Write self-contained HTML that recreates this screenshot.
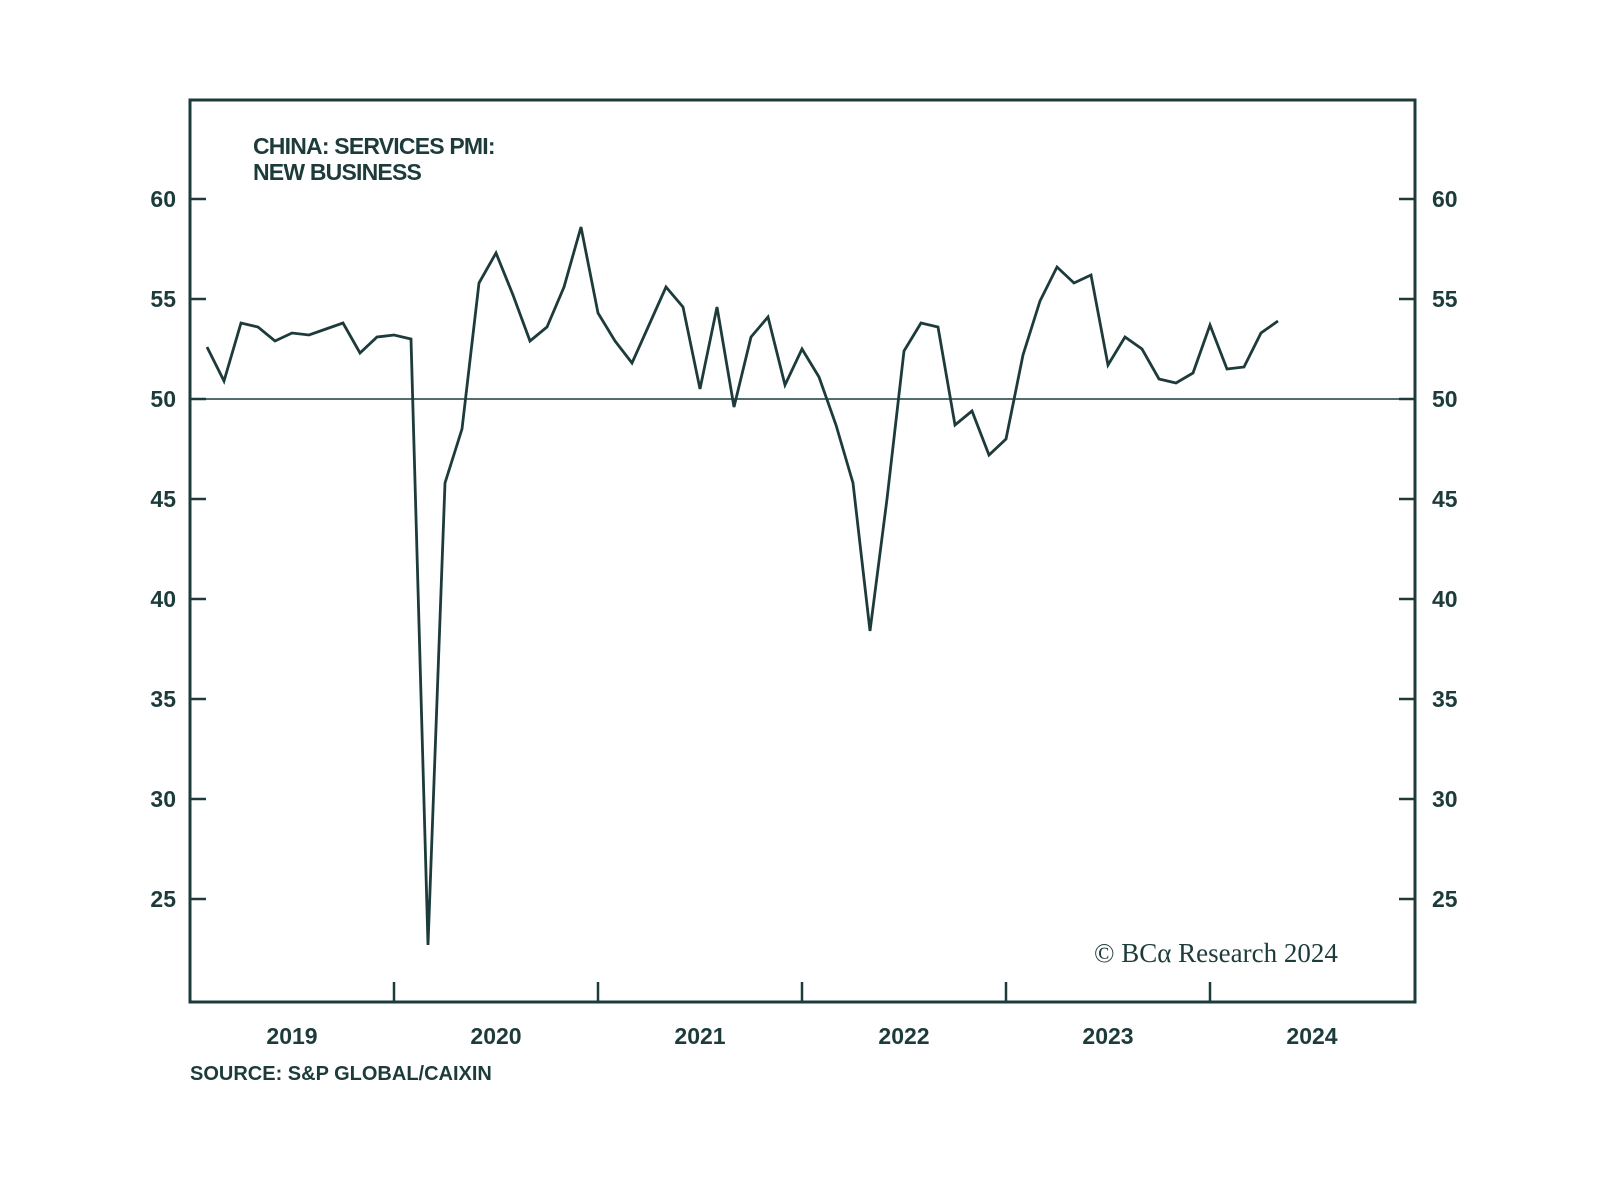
<!DOCTYPE html>
<html><head><meta charset="utf-8"><style>
body{margin:0;background:#fff;}
svg{display:block;}
text{font-family:"Liberation Sans",sans-serif;fill:#1d3b3b;}
</style></head><body>
<svg id="chart" width="1600" height="1200" xmlns="http://www.w3.org/2000/svg">
<g id="frame"></g>
<g id="ticks"></g>
<g id="series"></g>
<text x="253" y="154" font-size="23" font-weight="bold" letter-spacing="-0.8">CHINA: SERVICES PMI:</text>
<text x="253" y="180" font-size="23" font-weight="bold" letter-spacing="-0.8">NEW BUSINESS</text>
<text x="1094" y="962" font-size="27" style="font-family:'Liberation Serif',serif">© BCα Research 2024</text>
<text x="190" y="1080" font-size="20" font-weight="bold">SOURCE: S&amp;P GLOBAL/CAIXIN</text>
</svg>
<script>
const years = ["2019","2020","2021","2022","2023","2024"];
const yTicks = [25,30,35,40,45,50,55,60];
const values = [
52.6,50.9,53.8,53.6,52.9,53.3,53.2,53.5,53.8,52.3,53.1,53.2,
53.0,22.7,45.8,48.5,55.8,57.3,55.2,52.9,53.6,55.6,58.6,54.3,
52.9,51.8,53.7,55.6,54.6,50.5,54.6,49.6,53.1,54.1,50.7,52.5,
51.1,48.7,45.8,38.4,45.0,52.4,53.8,53.6,48.7,49.4,47.2,48.0,
52.2,54.9,56.6,55.8,56.2,51.7,53.1,52.5,51.0,50.8,51.3,53.7,
51.5,51.6,53.3,53.9];
const NS="http://www.w3.org/2000/svg";
const L=190,R=1415,T=100,B=1002;
const x=i=>L+17*(i+1);
const y=v=>399-(v-50)*20;
function mk(tag,attrs,parent,txt){const e=document.createElementNS(NS,tag);for(const k in attrs)e.setAttribute(k,attrs[k]);if(txt!==undefined)e.textContent=txt;document.getElementById(parent).appendChild(e);return e;}
const c="#1d3b3b";
let e=mk("rect",{x:L,y:T,width:R-L,height:B-T,fill:"none",stroke:c,"stroke-width":3},"frame");


e=mk("line",{x1:L,x2:R,y1:y(50),y2:y(50),stroke:c,"stroke-width":1.5},"frame");


yTicks.forEach(v=>{
 let t=mk("line",{x1:L,x2:L+16,y1:y(v),y2:y(v),stroke:c,"stroke-width":2.5},"ticks");
 
 
 t=mk("line",{x1:R-16,x2:R,y1:y(v),y2:y(v),stroke:c,"stroke-width":2.5},"ticks");
 
 
 t=mk("text",{x:176,y:y(v)+8,"font-size":23,"font-weight":"bold","text-anchor":"end"},"ticks",v);
 
 
 t=mk("text",{x:1432,y:y(v)+8,"font-size":23,"font-weight":"bold"},"ticks",v);
 
 
});
years.forEach((yr,k)=>{
 const x0=L+204*k;
 if(k>0){let t=mk("line",{x1:x0,x2:x0,y1:B-20,y2:B,stroke:c,"stroke-width":2.5},"ticks");
 
 }
 let t=mk("text",{x:x0+102,y:1044,"font-size":23,"font-weight":"bold","text-anchor":"middle"},"ticks",yr);
 
 
});
const pts=values.map((v,i)=>x(i).toFixed(1)+","+y(v).toFixed(1)).join(" ");
e=mk("polyline",{points:pts,fill:"none",stroke:c,"stroke-width":2.8,"stroke-linejoin":"miter"},"series");


</script>
</body></html>
